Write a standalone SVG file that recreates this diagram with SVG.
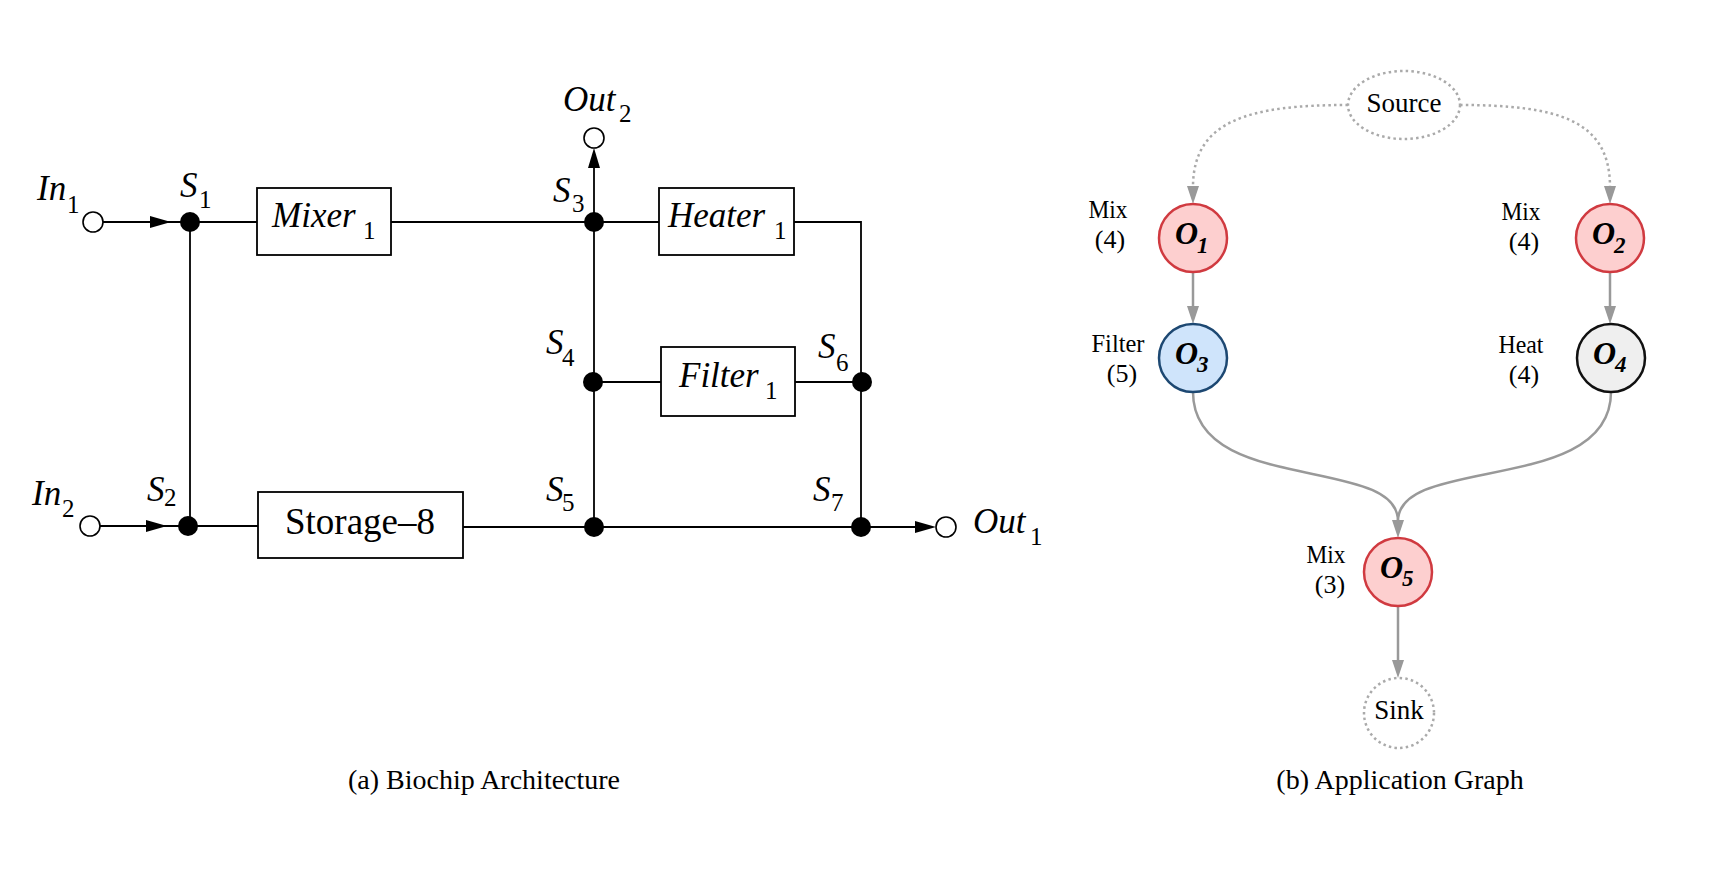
<svg xmlns="http://www.w3.org/2000/svg" width="1734" height="890" viewBox="0 0 1734 890">
<style>
text{font-family:"Liberation Serif","DejaVu Serif",serif;fill:#000}
.it{font-style:italic;font-size:35px}
.sub{font-size:25px}
.up{font-size:37px}
.w{stroke:#000;stroke-width:1.8;fill:none}
.box{stroke:#000;stroke-width:1.8;fill:#fff}
.dot{fill:#000}
.port{fill:#fff;stroke:#000;stroke-width:1.6}
.ah{fill:#000}
.g{stroke:#999;stroke-width:2.5;fill:none}
.gd{stroke:#aaa;stroke-width:2.5;fill:none;stroke-dasharray:2.5 3.2}
.gah{fill:#999}
.lab{font-size:26px}
.on{font-weight:bold;font-style:italic;font-size:32px}
.os{font-weight:bold;font-style:italic;font-size:23px}
.red{fill:#fdcfcf;stroke:#d03a40;stroke-width:2.5}
.blue{fill:#cfe4fb;stroke:#1d4872;stroke-width:2.5}
.grey{fill:#efefef;stroke:#111;stroke-width:2.5}
.cap{font-size:28px}
</style>
<rect width="1734" height="890" fill="#fff"/>

<g id="wires">
<line class="w" x1="103" y1="222" x2="257" y2="222"/>
<line class="w" x1="391" y1="222" x2="659" y2="222"/>
<polyline class="w" points="794,222 861,222 861,527"/>
<line class="w" x1="190" y1="222" x2="190" y2="526"/>
<line class="w" x1="594" y1="160" x2="594" y2="527"/>
<line class="w" x1="593" y1="382" x2="661" y2="382"/>
<line class="w" x1="795" y1="382" x2="862" y2="382"/>
<line class="w" x1="100" y1="526" x2="258" y2="526"/>
<line class="w" x1="463" y1="527" x2="920" y2="527"/>
<polygon class="ah" points="171,222 150,216 150,228"/>
<polygon class="ah" points="167,526 146,520 146,532"/>
<polygon class="ah" points="594,148 588,168 600,168"/>
<polygon class="ah" points="936,527 915,521 915,533"/>
</g>

<g id="in1"><circle class="port" cx="93" cy="222" r="10"/><text class="it" x="37" y="200">In</text><text class="sub" x="67" y="213">1</text></g>
<g id="in2"><circle class="port" cx="90" cy="526" r="10"/><text class="it" x="32" y="505">In</text><text class="sub" x="62" y="517">2</text></g>
<g id="out2"><circle class="port" cx="594" cy="138" r="10"/><text class="it" x="563" y="111">Out</text><text class="sub" x="619" y="122">2</text></g>
<g id="out1"><circle class="port" cx="946" cy="527" r="10"/><text class="it" x="973" y="533">Out</text><text class="sub" x="1030" y="545">1</text></g>

<g id="s1"><circle class="dot" cx="190" cy="222" r="10"/><text class="it" x="180" y="197">S</text><text class="sub" x="199" y="208">1</text></g>
<g id="s2"><circle class="dot" cx="188" cy="526" r="10"/><text class="it" x="147" y="501">S</text><text class="sub" x="164" y="506">2</text></g>
<g id="s3"><circle class="dot" cx="594" cy="222" r="10"/><text class="it" x="553" y="202">S</text><text class="sub" x="572" y="212">3</text></g>
<g id="s4"><circle class="dot" cx="593" cy="382" r="10"/><text class="it" x="546" y="354">S</text><text class="sub" x="562" y="366">4</text></g>
<g id="s5"><circle class="dot" cx="594" cy="527" r="10"/><text class="it" x="546" y="501">S</text><text class="sub" x="562" y="511">5</text></g>
<g id="s6"><circle class="dot" cx="862" cy="382" r="10"/><text class="it" x="818" y="358">S</text><text class="sub" x="836" y="371">6</text></g>
<g id="s7"><circle class="dot" cx="861" cy="527" r="10"/><text class="it" x="813" y="501">S</text><text class="sub" x="831" y="511">7</text></g>

<g id="mixer1"><rect class="box" x="257" y="188" width="134" height="67"/><text class="it" x="272" y="227">Mixer</text><text class="sub" x="363" y="239">1</text></g>
<g id="heater1"><rect class="box" x="659" y="188" width="135" height="67"/><text class="it" x="668" y="227">Heater</text><text class="sub" x="774" y="239">1</text></g>
<g id="filter1"><rect class="box" x="661" y="347" width="134" height="69"/><text class="it" x="679" y="387">Filter</text><text class="sub" x="765" y="399">1</text></g>
<g id="storage8"><rect class="box" x="258" y="492" width="205" height="66"/><text class="up" x="360" y="534" text-anchor="middle">Storage–8</text></g>

<g id="edges">
<path class="gd" d="M1348,105 C1250,105 1193,120 1193,187"/>
<polygon class="gah" points="1193,204 1187,186 1199,186"/>
<path class="gd" d="M1460,105 C1558,105 1610,120 1610,187"/>
<polygon class="gah" points="1610,204 1604,186 1616,186"/>
<line class="g" x1="1193" y1="272" x2="1193" y2="307"/>
<polygon class="gah" points="1193,324 1187,306 1199,306"/>
<line class="g" x1="1610" y1="272" x2="1610" y2="307"/>
<polygon class="gah" points="1610,324 1604,306 1616,306"/>
<path class="g" d="M1193,392 C1193,495 1398,455 1398,521"/>
<path class="g" d="M1611,392 C1611,495 1398,455 1398,521"/>
<polygon class="gah" points="1398,538 1392,520 1404,520"/>
<line class="g" x1="1398" y1="606" x2="1398" y2="661"/>
<polygon class="gah" points="1398,678 1392,660 1404,660"/>
</g>

<g id="source"><ellipse class="gd" cx="1404" cy="105" rx="56" ry="34"/><text x="1404" y="112" font-size="27" text-anchor="middle">Source</text></g>
<g id="o1"><circle class="red" cx="1193" cy="238" r="34"/><text class="on" x="1175" y="244">O</text><text class="os" x="1197" y="253">1</text><text class="lab" x="1108" y="218" text-anchor="middle" textLength="39" lengthAdjust="spacingAndGlyphs">Mix</text><text class="lab" x="1110" y="248" text-anchor="middle">(4)</text></g>
<g id="o2"><circle class="red" cx="1610" cy="238" r="34"/><text class="on" x="1592" y="244">O</text><text class="os" x="1614" y="253">2</text><text class="lab" x="1521" y="220" text-anchor="middle" textLength="39" lengthAdjust="spacingAndGlyphs">Mix</text><text class="lab" x="1524" y="250" text-anchor="middle">(4)</text></g>
<g id="o3"><circle class="blue" cx="1193" cy="358" r="34"/><text class="on" x="1175" y="364">O</text><text class="os" x="1197" y="372">3</text><text class="lab" x="1118" y="352" text-anchor="middle" textLength="53" lengthAdjust="spacingAndGlyphs">Filter</text><text class="lab" x="1122" y="382" text-anchor="middle">(5)</text></g>
<g id="o4"><circle class="grey" cx="1611" cy="358" r="34"/><text class="on" x="1593" y="364">O</text><text class="os" x="1615" y="372">4</text><text class="lab" x="1521" y="353" text-anchor="middle" textLength="45" lengthAdjust="spacingAndGlyphs">Heat</text><text class="lab" x="1524" y="383" text-anchor="middle">(4)</text></g>
<g id="o5"><circle class="red" cx="1398" cy="572" r="34"/><text class="on" x="1380" y="578">O</text><text class="os" x="1402" y="586">5</text><text class="lab" x="1326" y="563" text-anchor="middle" textLength="39" lengthAdjust="spacingAndGlyphs">Mix</text><text class="lab" x="1330" y="593" text-anchor="middle">(3)</text></g>
<g id="sink"><circle class="gd" cx="1399" cy="713" r="35"/><text x="1399" y="719" font-size="27" text-anchor="middle">Sink</text></g>

<g id="captions">
<text class="cap" x="484" y="789" text-anchor="middle">(a) Biochip Architecture</text>
<text class="cap" x="1400" y="789" text-anchor="middle">(b) Application Graph</text>
</g>
</svg>
